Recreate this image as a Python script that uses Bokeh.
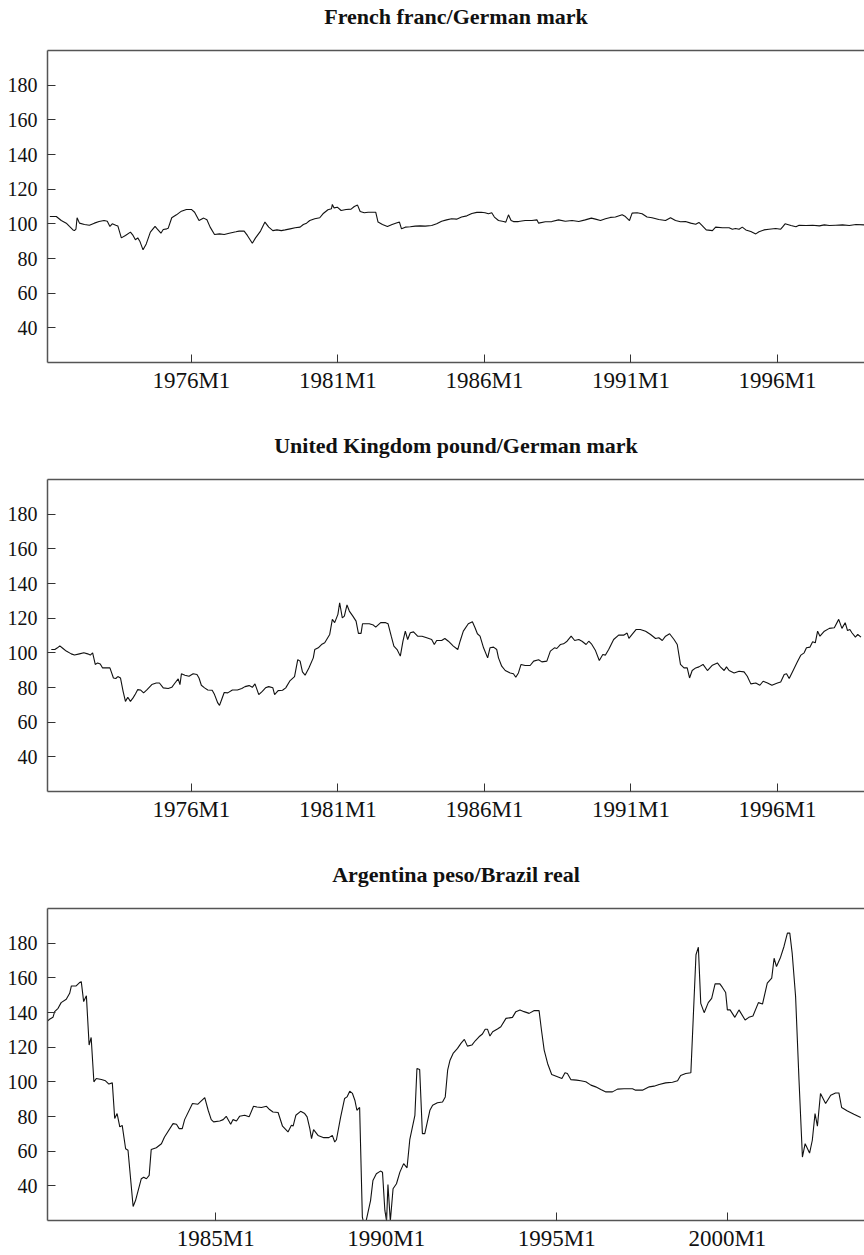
from bokeh.plotting import figure
from bokeh.models import Range1d, LinearAxis, FixedTicker
from bokeh.layouts import column
from bokeh.embed import file_html
from bokeh.resources import INLINE

# ---------------- data ----------------
Y_TICKS = [40, 60, 80, 100, 120, 140, 160, 180]

TICKS_7199 = [1976, 1981, 1986, 1991, 1996]
LABELS_7199 = ["1976M1", "1981M1", "1986M1", "1991M1", "1996M1"]
TICKS_8004 = [1985, 1990, 1995, 2000]
LABELS_8004 = ["1985M1", "1990M1", "1995M1", "2000M1"]

TITLE_FR = "French franc/German mark"
TITLE_UK = "United Kingdom pound/German mark"
TITLE_AR = "Argentina peso/Brazil real"

fr_t = [1971.17, 1971.39, 1971.56, 1971.73, 1971.84, 1971.96,
        1972.01, 1972.06, 1972.10, 1972.18, 1972.35, 1972.52, 1972.69, 1972.85,
        1973.02, 1973.13, 1973.22, 1973.30, 1973.42, 1973.49, 1973.61, 1973.75, 1973.92,
        1974.01, 1974.09, 1974.17, 1974.24, 1974.35, 1974.46, 1974.60, 1974.76, 1974.84, 1974.96,
        1975.04, 1975.16, 1975.21, 1975.33, 1975.49, 1975.66, 1975.83,
        1976.00, 1976.11, 1976.26, 1976.42, 1976.53, 1976.64, 1976.79, 1976.96,
        1977.12, 1977.29, 1977.52, 1977.63, 1977.80, 1977.91,
        1978.08, 1978.19, 1978.36, 1978.51, 1978.64, 1978.78, 1978.92,
        1979.07, 1979.20, 1979.37, 1979.54, 1979.71, 1979.82, 1979.93,
        1980.04, 1980.21, 1980.38, 1980.49, 1980.66, 1980.78, 1980.81, 1980.87, 1980.98,
        1981.11, 1981.28, 1981.45, 1981.56, 1981.67, 1981.76, 1981.90,
        1982.03, 1982.18, 1982.29, 1982.37, 1982.52, 1982.69, 1982.85,
        1983.02, 1983.10, 1983.17, 1983.30, 1983.47, 1983.64, 1983.81, 1983.98,
        1984.20, 1984.37, 1984.54, 1984.71, 1984.88,
        1985.05, 1985.22, 1985.40, 1985.57, 1985.74, 1985.89,
        1986.02, 1986.14, 1986.25, 1986.34, 1986.48, 1986.65, 1986.73, 1986.82, 1986.91, 1986.99,
        1987.16, 1987.39, 1987.62, 1987.79, 1987.85,
        1988.08, 1988.30, 1988.53, 1988.76, 1988.99,
        1989.22, 1989.44, 1989.65, 1989.79, 1989.96,
        1990.13, 1990.30, 1990.47, 1990.70, 1990.81, 1990.95,
        1991.04, 1991.21, 1991.38, 1991.55, 1991.72, 1991.95,
        1992.18, 1992.35, 1992.52, 1992.69, 1992.86,
        1993.04, 1993.21, 1993.32, 1993.43, 1993.57, 1993.78, 1993.89,
        1994.12, 1994.35, 1994.46, 1994.57, 1994.69, 1994.80, 1994.92,
        1995.09, 1995.26, 1995.37, 1995.54, 1995.71, 1995.94,
        1996.11, 1996.17, 1996.26, 1996.46, 1996.63, 1996.74, 1996.97,
        1997.20, 1997.43, 1997.60, 1997.77, 1997.99,
        1998.22, 1998.45, 1998.68, 1998.98]
fr_v = [104.2, 104.2, 101.9, 100.4, 98.5, 96.5,
        96.1, 96.9, 103.5, 100.4, 99.6, 99.2, 100.4, 101.3,
        101.9, 101.5, 98.5, 100.0, 99.2, 98.8, 91.9, 93.3, 95.2,
        93.3, 90.8, 91.9, 90.0, 85.0, 88.4, 95.2, 98.5, 96.9, 94.6,
        96.7, 97.1, 97.5, 103.5, 105.2, 107.3, 108.3,
        108.3, 106.7, 101.9, 103.3, 102.3, 98.1, 93.8, 94.2,
        93.8, 94.6, 95.4, 95.8, 95.8, 93.3,
        88.8, 91.9, 95.8, 101.0, 98.1, 96.1, 96.5,
        96.1, 96.5, 97.1, 97.7, 98.1, 99.6, 100.4,
        101.9, 102.9, 103.5, 105.8, 108.1, 108.7, 111.2, 109.2, 109.6,
        107.7, 108.3, 108.5, 110.0, 110.8, 107.1, 106.4,
        106.7, 106.7, 106.7, 101.0, 99.6, 98.5, 99.6,
        100.6, 101.0, 97.1, 98.1, 98.3, 98.7, 98.8, 98.7,
        99.0, 100.0, 101.5, 102.3, 102.9,
        102.7, 103.9, 104.6, 106.0, 106.6, 106.7,
        106.4, 105.8, 106.4, 103.9, 101.9, 101.3, 101.0, 105.2, 101.9, 101.3,
        101.3, 101.9, 101.9, 102.3, 100.4,
        101.2, 101.3, 102.3, 101.5, 101.9,
        101.3, 102.3, 103.3, 102.7, 101.9,
        102.9, 103.7, 103.9, 105.2, 104.2, 101.9,
        106.2, 106.4, 105.8, 103.9, 103.5, 102.5,
        101.9, 103.5, 101.9, 101.2, 101.3,
        100.4, 99.8, 100.8, 99.0, 96.5, 96.1, 98.1,
        97.7, 97.7, 96.9, 97.3, 96.9, 98.1, 96.5,
        95.6, 94.2, 95.4, 96.5, 96.9, 97.3,
        96.9, 98.1, 100.0, 99.0, 98.3, 99.2, 99.0,
        99.2, 98.8, 99.4, 99.0, 99.2,
        99.4, 99.0, 99.6, 99.4]

uk_t = [1971.22, 1971.34, 1971.43, 1971.51, 1971.62, 1971.73, 1971.90,
        1972.01, 1972.18, 1972.33, 1972.46, 1972.55, 1972.63, 1972.72, 1972.80, 1972.89, 1972.97,
        1973.08, 1973.22, 1973.34, 1973.42, 1973.49, 1973.58, 1973.67, 1973.75, 1973.83, 1973.92,
        1974.01, 1974.09, 1974.17, 1974.26, 1974.37, 1974.48, 1974.65, 1974.80, 1974.91,
        1975.04, 1975.21, 1975.33, 1975.44, 1975.55, 1975.61, 1975.66, 1975.78, 1975.92,
        1976.06, 1976.19, 1976.26, 1976.34, 1976.45, 1976.56, 1976.71, 1976.79, 1976.90, 1976.96,
        1977.04, 1977.12, 1977.24, 1977.40, 1977.57, 1977.72, 1977.83, 1977.97,
        1978.08, 1978.17, 1978.30, 1978.42, 1978.53, 1978.64, 1978.78, 1978.84, 1978.96,
        1979.11, 1979.22, 1979.37, 1979.52, 1979.63, 1979.71, 1979.79, 1979.88,
        1980.01, 1980.16, 1980.21, 1980.33, 1980.44, 1980.55, 1980.72, 1980.81, 1980.89,
        1981.00, 1981.06, 1981.15, 1981.22, 1981.31, 1981.39, 1981.51, 1981.62, 1981.70, 1981.79, 1981.84, 1981.96,
        1982.07, 1982.21, 1982.29, 1982.46, 1982.63, 1982.71, 1982.82, 1982.91,
        1983.02, 1983.13, 1983.22, 1983.30, 1983.38, 1983.47, 1983.58, 1983.72, 1983.87,
        1984.03, 1984.20, 1984.29, 1984.37, 1984.54, 1984.65, 1984.77, 1984.94,
        1985.09, 1985.17, 1985.28, 1985.45, 1985.59, 1985.68, 1985.76, 1985.85, 1985.97,
        1986.11, 1986.19, 1986.31, 1986.42, 1986.48, 1986.59, 1986.71, 1986.88, 1986.99,
        1987.07, 1987.16, 1987.25, 1987.39, 1987.56, 1987.68, 1987.85, 1987.96,
        1988.13, 1988.25, 1988.39, 1988.47, 1988.59, 1988.70, 1988.82, 1988.96,
        1989.08, 1989.22, 1989.33, 1989.47, 1989.56, 1989.65, 1989.79, 1989.92,
        1990.04, 1990.13, 1990.24, 1990.41, 1990.58, 1990.75, 1990.87, 1990.93,
        1991.04, 1991.18, 1991.32, 1991.50, 1991.67, 1991.84, 1991.95,
        1992.07, 1992.18, 1992.32, 1992.47, 1992.58, 1992.69, 1992.81, 1992.92,
        1993.00, 1993.09, 1993.21, 1993.32, 1993.46, 1993.61, 1993.78, 1993.95,
        1994.06, 1994.18, 1994.26, 1994.35, 1994.52, 1994.69, 1994.86, 1994.97,
        1995.09, 1995.26, 1995.40, 1995.51, 1995.66, 1995.81,
        1996.00, 1996.11, 1996.23, 1996.31, 1996.40, 1996.51, 1996.68, 1996.80, 1996.91, 1996.99,
        1997.11, 1997.20, 1997.29, 1997.37, 1997.45, 1997.60, 1997.77, 1997.94,
        1998.09, 1998.20, 1998.31, 1998.39, 1998.47, 1998.54, 1998.66, 1998.74, 1998.85]
uk_v = [101.9, 101.9, 102.9, 104.0, 102.5, 101.0, 99.4,
        98.7, 99.4, 100.0, 99.4, 98.7, 100.0, 93.3, 94.2, 93.6, 91.3,
        91.3, 91.3, 85.5, 85.2, 86.3, 85.5, 77.8, 72.0, 74.4, 72.0,
        74.0, 76.3, 78.8, 78.6, 76.9, 78.6, 81.7, 82.6, 82.6,
        79.8, 79.4, 80.1, 82.6, 85.0, 81.7, 87.9, 87.1, 86.5,
        87.9, 87.5, 85.5, 81.3, 79.8, 78.6, 78.4, 75.9, 71.1, 69.7,
        73.4, 77.1, 76.9, 78.6, 78.6, 79.4, 80.5, 81.1,
        80.1, 82.1, 75.9, 77.8, 79.8, 80.5, 79.8, 75.9, 78.2,
        78.4, 79.8, 84.0, 86.3, 96.1, 95.2, 89.0, 87.1,
        91.3, 97.1, 101.9, 102.9, 104.8, 105.8, 110.6, 119.3, 117.4,
        122.2, 128.9, 120.2, 121.2, 127.6, 124.1, 121.2, 118.3, 111.2, 111.2, 116.8, 116.8,
        116.8, 116.0, 114.8, 117.4, 117.4, 116.8, 109.6, 103.9,
        101.9, 98.1, 106.7, 112.5, 107.7, 111.6, 112.1, 109.6, 109.6,
        108.7, 107.7, 104.8, 107.1, 107.1, 108.3, 106.7, 103.9,
        101.9, 106.7, 112.5, 116.8, 117.9, 114.5, 111.0, 109.6, 102.9,
        97.1, 102.9, 103.3, 101.9, 97.1, 92.3, 89.8, 88.4, 87.9,
        85.9, 88.4, 93.3, 92.7, 92.7, 95.2, 96.0, 94.8,
        95.2, 101.0, 102.9, 102.5, 104.8, 105.2, 106.7, 109.6,
        107.1, 107.7, 106.7, 104.8, 106.7, 105.2, 101.3, 95.6,
        99.0, 98.7, 101.9, 107.7, 110.2, 110.2, 111.4, 108.3,
        110.6, 113.5, 113.5, 112.5, 110.6, 108.3, 108.7,
        107.1, 109.6, 111.0, 107.7, 104.8, 93.3, 91.3, 91.3,
        85.5, 89.8, 91.3, 91.9, 93.3, 89.8, 92.9, 94.2,
        91.7, 89.8, 91.9, 89.8, 88.4, 89.4, 89.0, 86.5,
        82.1, 82.6, 81.3, 83.6, 82.6, 81.3,
        82.6, 83.2, 87.5, 87.9, 85.2, 89.0, 94.8, 98.7, 100.0, 102.9,
        103.3, 106.4, 105.8, 112.5, 109.6, 112.5, 114.1, 114.5,
        119.3, 114.1, 117.4, 112.9, 113.5, 111.6, 109.1, 110.6, 109.1]

ar_t = [1980.05, 1980.13, 1980.23, 1980.28, 1980.38, 1980.47, 1980.62, 1980.72, 1980.77, 1980.91,
        1981.01, 1981.06, 1981.13, 1981.21, 1981.29, 1981.35, 1981.43, 1981.50, 1981.65, 1981.77, 1981.87, 1981.97,
        1982.04, 1982.11, 1982.19, 1982.26, 1982.36, 1982.43, 1982.58, 1982.65, 1982.82, 1982.89, 1982.97,
        1983.05, 1983.11, 1983.26, 1983.41, 1983.50, 1983.75, 1983.85, 1983.93,
        1984.02, 1984.09, 1984.32, 1984.48, 1984.58, 1984.68, 1984.78, 1984.87, 1984.94,
        1985.12, 1985.22, 1985.31, 1985.44, 1985.51, 1985.61, 1985.70, 1985.85, 1985.98,
        1986.11, 1986.21, 1986.34, 1986.49, 1986.58, 1986.68, 1986.83, 1986.96,
        1987.12, 1987.22, 1987.27, 1987.35, 1987.49, 1987.61, 1987.68, 1987.76, 1987.81, 1987.87,
        1988.00, 1988.17, 1988.32, 1988.42, 1988.49, 1988.54, 1988.66, 1988.78, 1988.85, 1988.93,
        1989.01, 1989.08, 1989.14, 1989.22, 1989.30, 1989.37, 1989.54, 1989.61, 1989.71, 1989.83, 1989.89, 1989.96,
        1990.01, 1990.05, 1990.12, 1990.20, 1990.30, 1990.40, 1990.51, 1990.61, 1990.69, 1990.84, 1990.90, 1990.98,
        1991.06, 1991.13, 1991.28, 1991.36, 1991.50, 1991.65, 1991.73, 1991.80, 1991.87, 1991.96,
        1992.09, 1992.19, 1992.29, 1992.38, 1992.51, 1992.61, 1992.72, 1992.82, 1992.90, 1992.97,
        1993.04, 1993.12, 1993.26, 1993.36, 1993.51, 1993.70, 1993.80, 1993.92,
        1994.04, 1994.19, 1994.34, 1994.48, 1994.55, 1994.63, 1994.73, 1994.85,
        1995.02, 1995.15, 1995.24, 1995.31, 1995.41, 1995.58, 1995.70, 1995.85,
        1996.00, 1996.14, 1996.29, 1996.44, 1996.63, 1996.78, 1996.97,
        1997.22, 1997.31, 1997.51, 1997.71, 1997.85,
        1998.00, 1998.19, 1998.39, 1998.54, 1998.63, 1998.78, 1998.93,
        1999.08, 1999.15, 1999.22, 1999.32, 1999.44, 1999.54, 1999.64, 1999.78, 1999.85, 1999.95,
        2000.00, 2000.08, 2000.22, 2000.34, 2000.52, 2000.63, 2000.75, 2000.91,
        2001.03, 2001.17, 2001.30, 2001.37, 2001.44, 2001.56, 2001.66, 2001.76, 2001.83, 2001.90,
        2002.00, 2002.10, 2002.20, 2002.28, 2002.41, 2002.49, 2002.57, 2002.64, 2002.73, 2002.88,
        2003.03, 2003.17, 2003.27, 2003.35, 2003.52, 2003.71, 2003.91]
ar_v = [134.7, 136.1, 137.2, 140.5, 142.4, 145.7, 147.6, 151.1, 155.3, 155.3,
        157.3, 157.8, 146.3, 149.6, 121.2, 125.6, 100.0, 101.9, 101.3, 100.6, 98.7, 99.4,
        78.8, 81.7, 74.0, 74.9, 61.4, 60.5, 28.1, 31.5, 44.1, 45.0, 44.1,
        46.0, 60.9, 62.0, 64.3, 68.2, 75.9, 75.5, 73.0,
        73.0, 78.2, 87.5, 87.1, 89.0, 90.9, 83.6, 78.2, 76.9,
        77.4, 78.2, 80.1, 75.5, 78.2, 77.4, 80.1, 80.7, 79.8,
        85.9, 85.5, 85.2, 85.9, 84.0, 82.6, 82.3, 74.4,
        71.1, 74.9, 74.5, 80.7, 83.0, 81.7, 79.8, 73.0, 67.2, 72.4,
        69.1, 67.8, 67.8, 69.1, 65.3, 66.6, 79.4, 90.4, 91.3, 94.6,
        93.3, 89.4, 83.6, 85.2, 21.9, 16.1, 31.5, 43.1, 47.0, 48.5, 47.9, 25.8,
        19.6, 40.8, 19.6, 38.3, 41.2, 47.9, 52.8, 50.4, 66.6, 80.7, 107.7, 107.1,
        70.1, 70.1, 83.6, 86.5, 87.9, 88.4, 91.3, 106.7, 112.5, 116.4,
        119.3, 122.2, 124.5, 120.6, 121.2, 123.7, 126.0, 127.6, 130.3, 130.3,
        126.4, 128.9, 130.5, 131.8, 136.6, 137.2, 140.5, 141.5,
        140.5, 139.5, 141.1, 141.1, 129.9, 118.3, 110.6, 104.2,
        102.9, 101.9, 105.2, 104.8, 101.3, 101.0, 100.6, 100.0,
        98.1, 97.1, 95.6, 94.2, 94.2, 95.8, 96.0,
        96.0, 95.2, 95.2, 97.1, 97.5,
        98.5, 99.4, 99.8, 100.6, 103.7, 104.8, 105.2,
        173.3, 177.7, 145.3, 139.9, 145.7, 148.2, 156.5, 156.5, 154.6, 151.5,
        141.5, 141.5, 137.2, 141.5, 135.7, 137.2, 138.0, 145.7,
        144.9, 156.9, 159.8, 171.3, 166.5, 171.9, 178.1, 185.8, 185.8, 174.2,
        149.2, 101.0, 56.6, 64.3, 58.9, 66.3, 81.7, 74.4, 93.3, 87.5,
        92.3, 93.6, 93.6, 85.2, 83.2, 81.3, 79.4]

assert len(fr_t) == len(fr_v) and len(uk_t) == len(uk_v) and len(ar_t) == len(ar_v)

# ---------------- styling ----------------
FONT = "'Liberation Serif', 'Times New Roman', serif"
AXIS_COLOR = "#555555"
LINE_COLOR = "#111111"


def panel(title, t, v, xr, ticks, labels, height, min_bottom):
    p = figure(width=864, height=height,
               x_range=Range1d(*xr), y_range=Range1d(20, 200),
               output_backend="svg", toolbar_location=None)
    p.min_border = 0
    p.min_border_left = 47
    p.min_border_right = 0
    p.min_border_top = 49
    p.min_border_bottom = min_bottom
    p.outline_line_color = None
    p.grid.visible = False
    p.background_fill_color = "white"
    p.border_fill_color = "white"

    p.xaxis.ticker = FixedTicker(ticks=ticks)
    p.xaxis.major_label_overrides = dict(zip(ticks, labels))
    p.yaxis.ticker = FixedTicker(ticks=Y_TICKS)
    for ax in (p.xaxis, p.yaxis):
        ax.axis_line_color = AXIS_COLOR
        ax.axis_line_width = 1.5
        ax.major_tick_in = 8
        ax.major_tick_out = 0
        ax.major_tick_line_color = "#333333"
        ax.major_tick_line_width = 1
        ax.minor_tick_line_color = None
        ax.major_label_text_font = FONT
        ax.major_label_text_color = "#111111"
    p.yaxis.major_label_text_font_size = "20px"
    p.yaxis.major_label_standoff = 10
    p.xaxis.major_label_text_font_size = "23px"
    p.xaxis.major_label_standoff = 5

    # top frame line; its axis label carries the panel title
    top = LinearAxis(ticker=FixedTicker(ticks=[]), axis_line_color=AXIS_COLOR,
                     axis_line_width=1.5, major_tick_line_color=None,
                     minor_tick_line_color=None, major_label_text_font_size="0px",
                     major_label_standoff=0, major_tick_in=0, major_tick_out=0,
                     axis_label=title, axis_label_standoff=22,
                     axis_label_text_font=FONT, axis_label_text_font_size="22px",
                     axis_label_text_font_style="bold", axis_label_text_color="#111111")
    p.add_layout(top, "above")

    p.line(t, v, line_color=LINE_COLOR, line_width=1.1)
    return p


p1 = panel(TITLE_FR, fr_t, fr_v, (1971.09, 1998.97), TICKS_7199, LABELS_7199, 429, 67)
p2 = panel(TITLE_UK, uk_t, uk_v, (1971.09, 1998.97), TICKS_7199, LABELS_7199, 429, 67)
p3 = panel(TITLE_AR, ar_t, ar_v, (1980.07, 2004.02), TICKS_8004, LABELS_8004, 396, 34)

layout = column(p1, p2, p3, spacing=0)

with open("out.html", "w") as f:
    f.write(file_html(layout, INLINE, "Exchange rates"))
